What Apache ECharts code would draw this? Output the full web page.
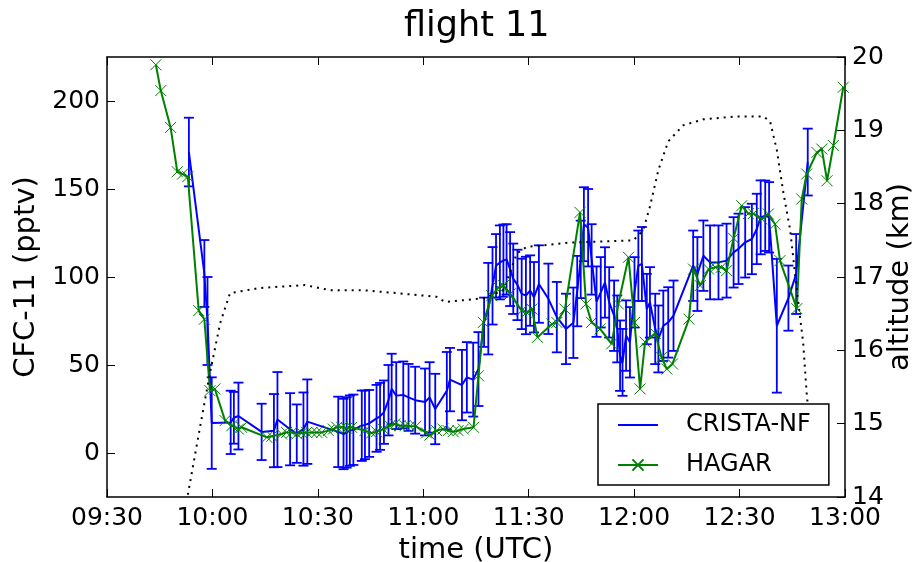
<!DOCTYPE html>
<html>
<head>
<meta charset="utf-8">
<title>flight 11</title>
<script src="https://cdn.jsdelivr.net/npm/echarts@6/dist/echarts.min.js"></script>
<style>
html, body { margin: 0; padding: 0; background: #fff; }
#main { width: 919px; height: 562px; }
</style>
</head>
<body>
<div id="main"></div>
<script>
// time = minutes after 09:30 UTC
var xTickLabels = ['09:30', '10:00', '10:30', '11:00', '11:30', '12:00', '12:30', '13:00'];
var cfcTicks = [0, 50, 100, 150, 200];

// CRISTA-NF: time, CFC-11 (pptv), error (pptv)
var cristaTime = [23.3, 27.7, 28.6, 29.8, 35.2, 36.1, 37.4, 44.0, 47.5, 48.5, 52.1, 54.0, 55.9, 57.0,
    65.8, 67.3, 68.2, 69.1, 70.1, 72.5, 73.4, 74.6, 76.7, 77.7, 78.8, 80.1, 81.0, 82.3, 84.3, 85.8,
    87.7, 90.5, 91.8, 93.4, 96.7, 97.6, 101.0, 102.4, 104.2, 105.7, 107.3, 108.5, 109.7, 110.7, 111.8,
    112.8, 113.7, 114.7, 115.6, 116.8, 118.0, 119.2, 120.4, 121.5, 122.9, 125.6, 128.0, 130.6, 132.7,
    133.8, 134.8, 135.7, 136.9, 137.9, 139.3, 140.5, 141.7, 142.9, 144.3, 145.2, 146.0, 146.7, 147.7,
    148.8, 150.1, 151.2, 152.2, 153.6, 154.5, 156.0, 156.9, 158.3, 159.7, 161.2, 166.8, 168.0, 169.7,
    171.6, 174.0, 176.3, 178.3, 179.7, 181.6, 183.5, 184.9, 186.0, 187.3, 188.4, 190.6, 193.9, 196.1, 199.4];
var cristaCFC = [171, 102, 75, 17, 17.4, 20, 21, 12, 12.7, 19, 13.5, 11, 13.6, 17.8,
    12, 10.8, 11.7, 12.7, 13.2, 15.5, 16, 16.8, 19.7, 20.8, 23.2, 30, 36.4, 32.6, 33, 31.6,
    30, 29, 31.6, 25, 35.4, 41.7, 38.6, 43, 41.7, 47.7, 74.3, 82, 95, 106.4, 108.3,
    109.3, 110, 104.5, 99, 95.5, 90.4, 89.5, 92.3, 88.5, 96, 87.6, 77.2, 70.5, 74,
    92, 110, 130, 128, 110, 86, 91.3, 96.9, 85.6, 78, 70.5, 55.3, 51.5, 66.7,
    62.9, 91.3, 106.4, 107.4, 81.8, 85.6, 70.5, 64.8, 72.3, 74.2, 78, 106.4, 101.7, 112.1,
    108.3, 108.3, 109.3, 114, 116, 119.7, 121.6, 127.3, 133.9, 134.8, 133.9, 72.3, 88, 101.7, 165.3];
var cristaErr = [19.5, 19, 25, 26, 18, 14.7, 19, 16, 20.8, 27, 20.5, 16.6, 20.8, 24,
    20, 20, 20, 20, 20, 20, 19.5, 19, 19, 19, 18, 20, 20, 19, 19, 19,
    19, 19, 20, 20, 22, 18, 20, 20, 21, 21, 14, 26, 22, 18, 21,
    20.5, 20, 21, 20, 20, 20, 22, 20, 20, 22, 20, 20, 20, 20,
    20, 22, 21, 22, 20, 20, 20, 20, 20, 20, 19, 20, 19, 20,
    20, 20, 20, 21, 20, 20, 20, 19, 20, 20, 20, 20, 21, 20,
    21, 21, 21, 20, 20, 20, 20, 20, 21, 20, 20, 38, 18.5, 22.7, 19];

// HAGAR: time, CFC-11 (pptv)
var hagarTime = [13.9, 15.3, 18.1, 20.0, 21.5, 23.0, 26.1, 27.7, 29.3, 30.7, 33.6, 35.5, 37.4, 38.3,
    45.5, 46.9, 49.7, 51.1, 52.6, 54.0, 55.4, 56.8, 58.3, 59.7, 61.1, 63.0, 64.4, 65.4, 66.8, 68.2,
    69.6, 73.4, 75.3, 76.7, 78.6, 80.5, 81.9, 83.4, 84.8, 86.2, 87.9, 90.9, 91.9, 93.8, 95.6, 97.1,
    98.5, 99.9, 101.4, 104.3, 105.7, 107.1, 109.5, 111.4, 112.8, 114.7, 118.0, 119.4, 120.9, 122.5,
    126.6, 128.0, 130.3, 134.6, 136.3, 137.9, 140.3, 143.6, 145.5, 148.4, 150.1, 151.7, 153.1, 156.0,
    157.8, 159.3, 160.9, 165.6, 166.9, 168.8, 171.2, 173.1, 174.8, 176.3, 178.3, 180.6, 182.5, 183.9,
    186.3, 188.2, 190.1, 191.5, 196.3, 197.7, 199.1, 202.0, 203.4, 204.9, 206.7, 209.5];
var hagarCFC = [220.6, 205.9, 185, 159.8, 158.5, 157, 80.9, 76, 35.4, 36.4, 18.4, 15.5, 13.6, 14.6,
    8.9, 9.5, 10.8, 11.7, 11.7, 10.8, 11.4, 11.7, 11.7, 11.7, 11.7, 12.7, 13.6, 14.6, 14.6, 14,
    14.6, 12.7, 11.4, 12.1, 13.6, 15.5, 16.5, 15.5, 15.5, 15.2, 15.2, 11.4, 10.2, 12.7, 13.6, 12.7,
    12.1, 12.7, 13.6, 14.6, 43.9, 74.2, 89.4, 94.1, 95.1, 90.4, 80.9, 79.9, 81.8, 65.7,
    73.3, 74.2, 81.8, 136.7, 84.7, 74.2, 70.5, 62, 84.7, 111.2, 74.2, 36.4, 63, 68,
    54.4, 47.7, 50.6, 76.1, 104.5, 95.1, 104.5, 105.5, 105.5, 103.6, 122, 140.5, 136, 136,
    133, 135.8, 130, 109.3, 82, 144.3, 158.5, 170.8, 172.7, 154.7, 174.7, 207.8];

// altitude: time, km
var altTime = [23.0, 26.5, 29.3, 32.2, 35.0, 43.5, 56.3, 63.5, 72.9, 82.4, 93.8, 96.2, 107.1, 112.8,
    116.6, 119.4, 131.8, 149.8, 152.6, 154.5, 156.9, 159.7, 164.0, 169.7, 179.2, 186.8, 188.7, 190.6,
    192.5, 194.4, 196.3, 198.1, 199.1, 200.3];
var altKm = [14.03, 14.96, 15.69, 16.37, 16.78, 16.85, 16.89, 16.82, 16.82, 16.78, 16.73, 16.66, 16.71, 16.82,
    17.32, 17.41, 17.47, 17.5, 17.64, 17.96, 18.46, 18.85, 19.07, 19.15, 19.19, 19.19, 19.12, 18.73,
    18.14, 17.64, 16.82, 16.1, 15.41, 14.8];

function pairs(xs, ys) {
    var out = [];
    for (var i = 0; i < xs.length; i++) {
        out.push([xs[i], ys[i]]);
    }
    return out;
}
var errData = [];
for (var i = 0; i < cristaTime.length; i++) {
    errData.push([cristaTime[i], cristaCFC[i] - cristaErr[i], cristaCFC[i] + cristaErr[i]]);
}

var font = 'DejaVu Sans';
var tickFont = 25;
var nameFont = 29;
var chart = echarts.init(document.getElementById('main'));

/* error bars with caps */
function renderErr(params, api) {
    var lo = api.coord([api.value(0), api.value(1)]);
    var hi = api.coord([api.value(0), api.value(2)]);
    var st = {stroke: '#0000ff', lineWidth: 1.8};
    return {
        type: 'group',
        children: [
            {type: 'line', shape: {x1: lo[0], y1: lo[1], x2: hi[0], y2: hi[1]}, style: st},
            {type: 'line', shape: {x1: lo[0] - 5, y1: lo[1], x2: lo[0] + 5, y2: lo[1]}, style: st},
            {type: 'line', shape: {x1: hi[0] - 5, y1: hi[1], x2: hi[0] + 5, y2: hi[1]}, style: st}
        ]
    };
}

/* matplotlib-like frame: black spines, inward ticks */
function axis(spec) {
    var a = {
        type: 'value',
        axisLine: {show: true, onZero: false, lineStyle: {color: '#000', width: 1.5}},
        axisTick: {show: true, inside: true, length: 8, lineStyle: {color: '#000', width: 1}},
        splitLine: {show: false},
        nameTextStyle: {fontFamily: font, fontSize: nameFont, color: '#000'}
    };
    for (var k in spec) {
        if (a[k] && typeof a[k] === 'object' && !Array.isArray(spec[k])) {
            for (var j in spec[k]) a[k][j] = spec[k][j];
        } else {
            a[k] = spec[k];
        }
    }
    return a;
}

var option = {
    animation: false,
    backgroundColor: '#fff',
    title: {
        text: 'flight 11',
        left: 399,
        top: 4,
        textStyle: {fontFamily: font, fontSize: 35, fontWeight: 'normal', color: '#000'}
    },
    grid: {left: 107, right: 74, top: 57, bottom: 65, outerBoundsMode: 'none'},
    legend: {
        orient: 'vertical',
        left: 598,
        top: 404,
        z: 20,
        padding: [9, 18, 8, 19],
        itemWidth: 40,
        itemHeight: 14,
        itemGap: 16,
        borderColor: '#000',
        borderWidth: 1.5,
        borderRadius: 0,
        backgroundColor: '#fff',
        data: [
            {name: 'CRISTA-NF', itemStyle: {opacity: 0}},
            {name: 'HAGAR'}
        ],
        textStyle: {fontFamily: font, fontSize: 24, color: '#000', padding: [0, 0, 0, 23]}
    },
    xAxis: [
        axis({
            min: 0,
            max: 210,
            interval: 30,
            position: 'bottom',
            name: 'time (UTC)',
            nameLocation: 'middle',
            nameGap: 36,
            axisLabel: {
                fontFamily: font, fontSize: tickFont, color: '#000', margin: 9,
                showMinLabel: true, showMaxLabel: true,
                formatter: function (v) { return xTickLabels[Math.round(v / 30)]; }
            }
        }),
        axis({
            min: 0,
            max: 210,
            interval: 30,
            position: 'top',
            axisLabel: {show: false}
        })
    ],
    yAxis: [
        axis({
            min: -25,
            max: 225,
            position: 'left',
            name: 'CFC-11 (pptv)',
            nameLocation: 'middle',
            nameGap: 64,
            axisLabel: {fontFamily: font, fontSize: tickFont, color: '#000', margin: 7, customValues: cfcTicks},
            axisTick: {customValues: cfcTicks}
        }),
        axis({
            min: 14,
            max: 20,
            interval: 1,
            position: 'right',
            name: 'altitude (km)',
            nameLocation: 'middle',
            nameGap: 41,
            nameMoveOverlap: false,
            axisLabel: {fontFamily: font, fontSize: tickFont, color: '#000', margin: 7, showMinLabel: true, showMaxLabel: true}
        })
    ],
    series: [
        {
            name: 'CRISTA-NF',
            type: 'line',
            xAxisIndex: 0,
            yAxisIndex: 0,
            symbol: 'none',
            data: pairs(cristaTime, cristaCFC),
            lineStyle: {color: '#0000ff', width: 2},
            itemStyle: {color: '#0000ff'},
            z: 2
        },
        {
            name: 'CRISTA-NF err',
            type: 'custom',
            xAxisIndex: 0,
            yAxisIndex: 0,
            renderItem: renderErr,
            encode: {x: 0, y: [1, 2]},
            data: errData,
            z: 2
        },
        {
            name: 'HAGAR',
            type: 'line',
            xAxisIndex: 0,
            yAxisIndex: 0,
            symbol: 'path://M0,0L10,10M10,0L0,10',
            symbolSize: 11,
            showAllSymbol: true,
            data: pairs(hagarTime, hagarCFC),
            lineStyle: {color: '#008000', width: 2},
            itemStyle: {color: 'rgba(0,0,0,0)', borderColor: '#008000', borderWidth: 1},
            z: 3
        },
        {
            name: 'altitude',
            type: 'line',
            xAxisIndex: 0,
            yAxisIndex: 1,
            symbol: 'none',
            data: pairs(altTime, altKm),
            lineStyle: {color: '#000', width: 2, type: [2, 5]},
            z: 3
        }
    ]
};
chart.setOption(option);
</script>
</body>
</html>
